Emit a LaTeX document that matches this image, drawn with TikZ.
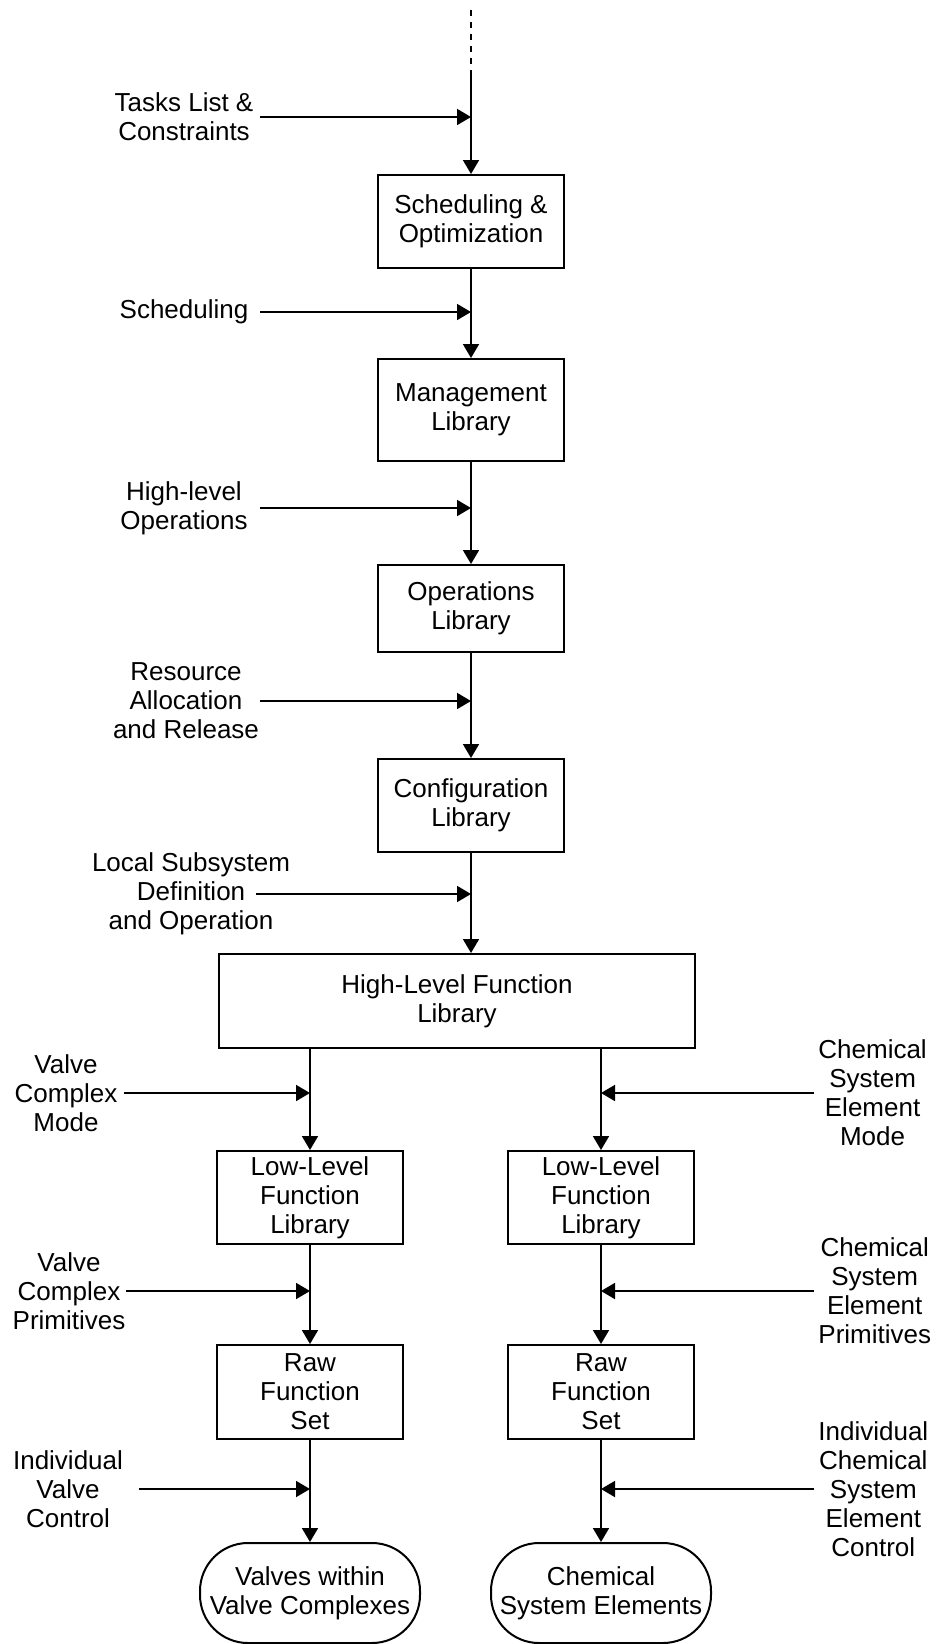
\documentclass[tikz,border=0pt]{standalone}
\usepackage{fontspec}
\setmainfont{Liberation Sans}
\usetikzlibrary{arrows.meta,positioning,calc}
\tikzset{
  box/.style={rectangle, draw=black, line width=1pt, align=center, minimum width=93pt, minimum height=46.5pt, inner sep=2pt},
  term/.style={box, rounded corners=24pt, minimum width=110pt, minimum height=50pt, inner sep=1pt},
  lbl/.style={align=center, inner sep=2pt},
  connect/.style={-{Triangle[length=7pt,width=8pt]}, line width=0.9pt}
}

\begin{document}
\begin{tikzpicture}[x=0.5pt, y=-0.5pt, font=\fontsize{13pt}{14.5pt}\selectfont]
  \useasboundingbox (0,0) rectangle (938,1644);

  % Main column: scheduling down to the high-level library
  \coordinate (dots) at (471,10);
  \coordinate (top) at (471,75);
  \node[box] (sched) at (471,221.5) {Scheduling \&\\Optimization};
  \node[box, minimum height=51pt] (mgmt) at (471,410) {Management\\Library};
  \node[box, minimum height=43.5pt] (ops) at (471,608.5) {Operations\\Library};
  \node[box] (config) at (471,805.5) {Configuration\\Library};
  \node[box, minimum width=238pt, minimum height=47pt] (hlf) at (457,1001) {High-Level Function\\Library};

  \draw[dashed, line width=0.6pt] (dots) -- (top);
  \draw[connect] (top) -- (sched);
  \draw[connect] (sched) -- (mgmt);
  \draw[connect] (mgmt) -- (ops);
  \draw[connect] (ops) -- (config);
  \draw[connect] (config.south) -- (config.south |- hlf.north);

  % Inputs to the main column
  \foreach \name/\y/\x/\s/\txt in {
      tasks/117/184/260/{Tasks List \&\\Constraints},
      schedin/312/184/260/{Scheduling},
      hlops/508/184/260/{High-level\\Operations},
      resource/701/186/260/{Resource\\Allocation\\and Release},
      local/894/191/256/{Local Subsystem\\Definition\\and Operation}} {
    \node[lbl] (\name) at (\x,\y) {\txt};
    \coordinate (\name_in) at (\s,\y);
    \draw[connect] (\name_in) -- (\name_in -| sched);
  }

  % Valve branch
  \node[box] (llf_v) at (310,1197.5) {Low-Level\\Function\\Library};
  \node[box, minimum height=47pt] (raw_v) at (310,1392) {Raw\\Function\\Set};
  \node[term] (valves) at (310,1593) {Valves within\\Valve Complexes};
  \draw[connect] (llf_v.north |- hlf.south) -- (llf_v);
  \draw[connect] (llf_v) -- (raw_v);
  \draw[connect] (raw_v) -- (valves);

  % Chemical branch
  \node[box] (llf_c) at (601,1197.5) {Low-Level\\Function\\Library};
  \node[box, minimum height=47pt] (raw_c) at (601,1392) {Raw\\Function\\Set};
  \node[term] (chems) at (601,1593) {Chemical\\System Elements};
  \draw[connect] (llf_c.north |- hlf.south) -- (llf_c);
  \draw[connect] (llf_c) -- (raw_c);
  \draw[connect] (raw_c) -- (chems);

  % Inputs to the valve branch
  \foreach \name/\y/\x/\s/\txt in {
      vcmode/1093/66/124/{Valve\\Complex\\Mode},
      vcprim/1291/69/126/{Valve\\Complex\\Primitives},
      ivctl/1489/68/139/{Individual\\Valve\\Control}} {
    \node[lbl] (\name) at (\x,\y) {\txt};
    \coordinate (\name_in) at (\s,\y);
    \draw[connect] (\name_in) -- (\name_in -| llf_v);
  }

  % Inputs to the chemical branch
  \foreach \name/\y/\txt in {
      csemode/1093/{Chemical\\System\\Element\\Mode},
      cseprim/1291/{Chemical\\System\\Element\\Primitives},
      icsectl/1489/{Individual\\Chemical\\System\\Element\\Control}} {
    \node[lbl, anchor=west] (\name) at (814,\y) {\txt};
    \draw[connect] (\name.west) -- (\name.west -| llf_c);
  }
\end{tikzpicture}
\end{document}
